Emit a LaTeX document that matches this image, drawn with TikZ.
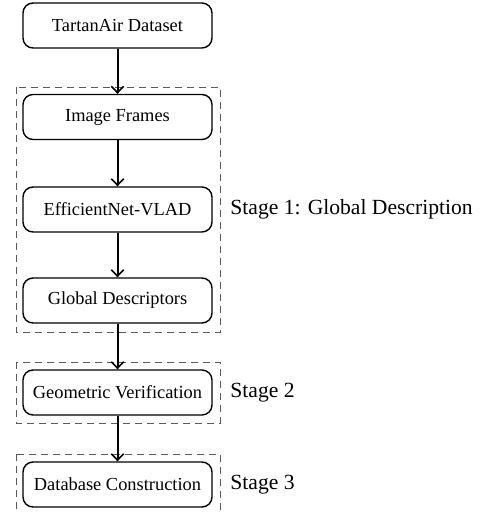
\documentclass[tikz,border=0pt]{standalone}
\usepackage{fontspec}
\setmainfont{Liberation Serif}
\usetikzlibrary{arrows.meta}
\begin{document}
\begin{tikzpicture}[x=0.5pt,y=-0.5pt,
  proc/.style={draw, rounded corners=5pt, line width=0.7pt, minimum width=94.5pt, minimum height=22.5pt, inner sep=0pt, font=\fontsize{9.2}{11}\selectfont},
  stagebox/.style={draw=black!65, dash pattern=on 3.5pt off 2.5pt, line width=0.5pt},
  stagelbl/.style={anchor=west, inner sep=0pt, font=\fontsize{10.8}{13}\selectfont},
  flow/.style={-{Straight Barb[length=3.2pt,width=6.2pt,line width=0.8pt]}, line width=1pt}]
\useasboundingbox (0,0) rectangle (482,514);
\clip (0,0) rectangle (482,514);
\node[proc] (ta) at (117.5,25.5) {TartanAir Dataset};
\node[proc] (if) at (117.5,117) {Image Frames};
\node[proc] (ev) at (117.5,209.5) {EfficientNet-VLAD};
\node[proc] (gd) at (117.5,300.5) {Global Descriptors};
\node[proc] (gv) at (117.5,392.5) {Geometric Verification};
\node[proc] (dc) at (117.5,484.5) {Database Construction};
\draw[stagebox] (16,87) rectangle (220,332);
\draw[stagebox] (16,362) rectangle (220,423);
\draw[stagebox] (16,454) rectangle (220,530);
\node[stagelbl] (s1) at (230,209.5) {Stage 1: Global Description};
\node[stagelbl] (s2) at (230,392.5) {Stage 2};
\node[stagelbl] (s3) at (230,484.5) {Stage 3};
\draw[flow] (ta) -- (if);
\draw[flow] (if) -- (ev);
\draw[flow] (ev) -- (gd);
\draw[flow] (gd) -- (gv);
\draw[flow] (gv) -- (dc);
\end{tikzpicture}
\end{document}
